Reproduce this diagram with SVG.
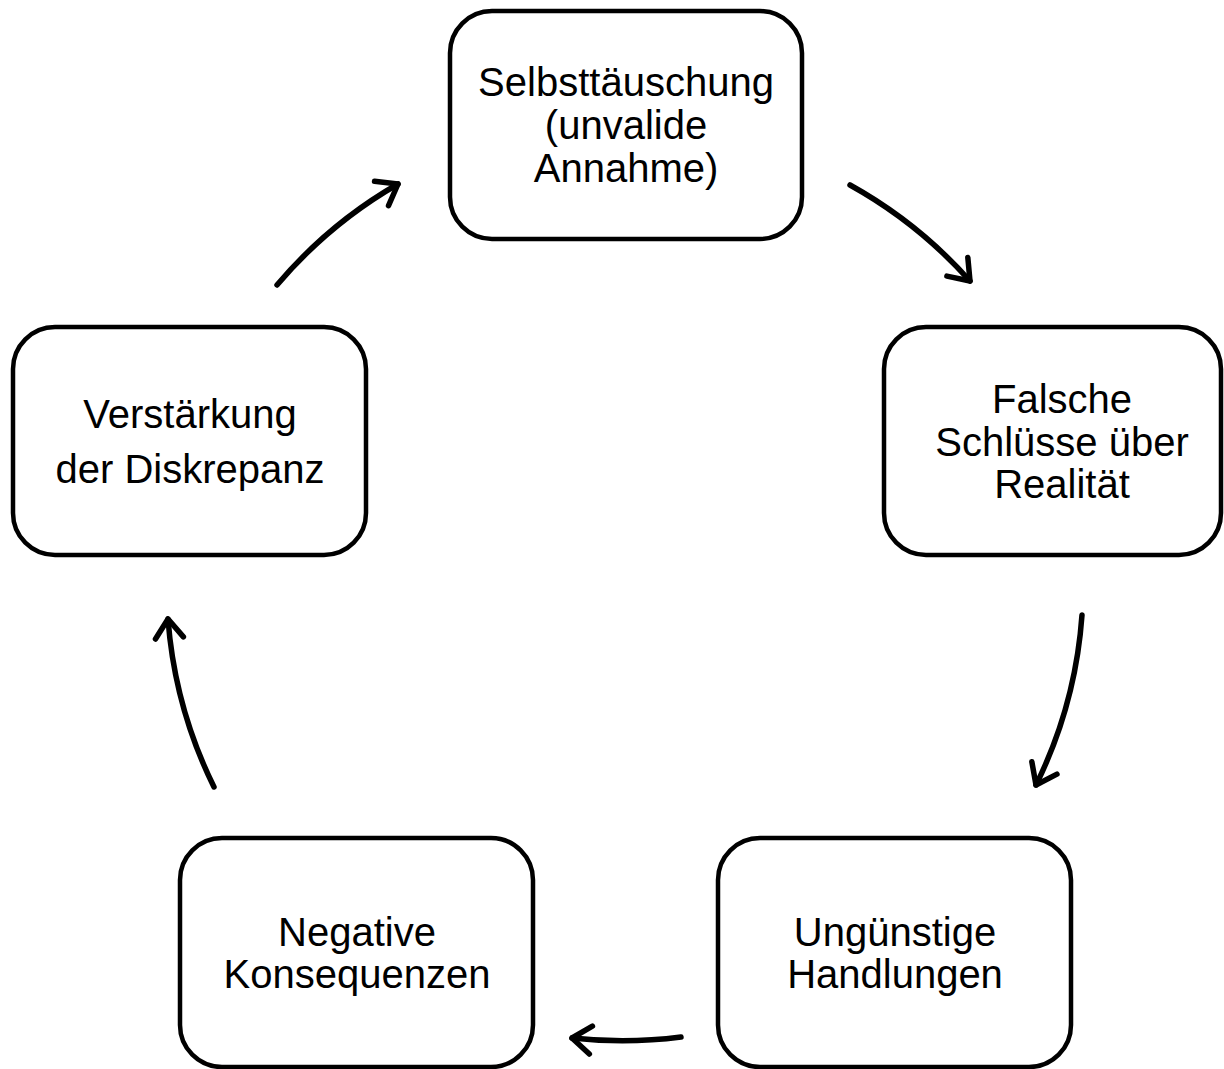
<svg xmlns="http://www.w3.org/2000/svg" width="1224" height="1069" viewBox="0 0 1224 1069">
<defs>
<style>
.box{fill:#fff;stroke:#000;stroke-width:4.5}
.lbl{font-family:"Liberation Sans",Arial,sans-serif;font-size:40px;fill:#000;text-anchor:middle}
.arr{fill:none;stroke:#000;stroke-width:5.5;stroke-linecap:round}
</style>
<marker id="ah" markerUnits="userSpaceOnUse" markerWidth="40" markerHeight="40" viewBox="-30 -20 40 40" refX="0" refY="0" orient="auto">
<path d="M-19,-14 L0,0 L-19,14" fill="none" stroke="#000" stroke-width="5.5" stroke-linecap="round" stroke-linejoin="round"/>
</marker>
</defs>
<rect width="1224" height="1069" fill="#fff"/>
<g id="n1">
<rect class="box" x="450" y="11" width="352" height="228" rx="42"/>
<text class="lbl" x="626" y="96">Selbsttäuschung</text>
<text class="lbl" x="626" y="139">(unvalide</text>
<text class="lbl" x="626" y="182">Annahme)</text>
</g>
<g id="n2">
<rect class="box" x="884" y="327" width="337" height="228" rx="42"/>
<text class="lbl" x="1062" y="413">Falsche</text>
<text class="lbl" x="1062" y="456">Schlüsse über</text>
<text class="lbl" x="1062" y="498">Realität</text>
</g>
<g id="n3">
<rect class="box" x="718" y="838" width="353" height="229" rx="42"/>
<text class="lbl" x="895" y="946">Ungünstige</text>
<text class="lbl" x="895" y="988">Handlungen</text>
</g>
<g id="n4">
<rect class="box" x="180" y="838" width="353" height="229" rx="42"/>
<text class="lbl" x="357" y="946">Negative</text>
<text class="lbl" x="357" y="988">Konsequenzen</text>
</g>
<g id="n5">
<rect class="box" x="13" y="327" width="353" height="228" rx="42"/>
<text class="lbl" x="190" y="428">Verstärkung</text>
<text class="lbl" x="190" y="483">der Diskrepanz</text>
</g>
<g id="connectors">
<path class="arr" marker-end="url(#ah)" d="M850,185 A458,458 0 0 1 970,281"/>
<path class="arr" marker-end="url(#ah)" d="M1082,615 A458,458 0 0 1 1036,785"/>
<path class="arr" marker-end="url(#ah)" d="M681,1037 A458,458 0 0 1 572,1038"/>
<path class="arr" marker-end="url(#ah)" d="M214,787 A458,458 0 0 1 168,619"/>
<path class="arr" marker-end="url(#ah)" d="M277,285 A458,458 0 0 1 398,184"/>
</g>
</svg>
